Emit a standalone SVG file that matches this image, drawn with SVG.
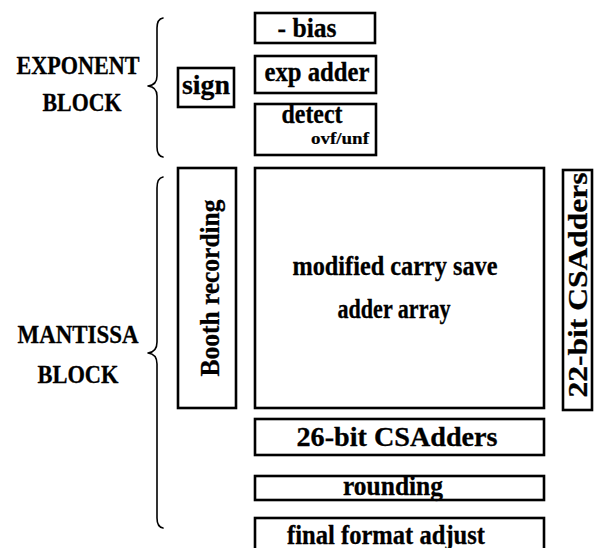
<svg xmlns="http://www.w3.org/2000/svg" width="605" height="548" viewBox="0 0 605 548">
  <style>
    .box { fill: #fff; stroke: #000; stroke-width: 2.6; }
    .brace { fill: none; stroke: #000; stroke-width: 1.6; stroke-linecap: round; stroke-linejoin: round; }
    text { font-family: "Liberation Serif", "Times New Roman", serif; font-weight: bold; fill: #000; stroke: #000; stroke-width: 0.3; text-anchor: middle; }
    .t { font-size: 27px; }
    .cap { font-size: 25px; }
    .small { font-size: 16px; stroke-width: 0.2; }
  </style>
  <rect width="605" height="548" fill="#fff"/>

  <!-- side labels with braces -->
  <g id="exponent-label">
    <text class="cap" x="78" y="74" textLength="123" lengthAdjust="spacingAndGlyphs">EXPONENT</text>
    <text class="cap" x="82" y="111" textLength="79" lengthAdjust="spacingAndGlyphs">BLOCK</text>
  </g>
  <g id="mantissa-label">
    <text class="cap" x="78" y="343" textLength="121" lengthAdjust="spacingAndGlyphs">MANTISSA</text>
    <text class="cap" x="78" y="383" textLength="81" lengthAdjust="spacingAndGlyphs">BLOCK</text>
  </g>
  <g id="connectors">
    <path class="brace" d="M163,18 Q157,19 157,28 L157,76 Q157,85 148,86 Q157,87 157,96 L157,147 Q157,156 163,157"/>
    <path class="brace" d="M163,177 Q157,178 157,188 L157,342 Q157,352 148,353 Q157,354 157,364 L157,518 Q157,527 163,528"/>
  </g>

  <!-- exponent block -->
  <g id="sign">
    <rect class="box" x="178" y="68" width="56" height="39"/>
    <text class="t" x="206" y="94" textLength="48" lengthAdjust="spacingAndGlyphs">sign</text>
  </g>
  <g id="bias">
    <rect class="box" x="255" y="13" width="120" height="30"/>
    <text class="t" x="307" y="37" textLength="59" lengthAdjust="spacingAndGlyphs">- bias</text>
  </g>
  <g id="exp-adder">
    <rect class="box" x="255" y="56" width="121" height="37"/>
    <text class="t" x="317" y="81" textLength="105" lengthAdjust="spacingAndGlyphs">exp adder</text>
  </g>
  <g id="detect">
    <rect class="box" x="255" y="104" width="121" height="51"/>
    <text class="t" x="312" y="123" textLength="61" lengthAdjust="spacingAndGlyphs">detect</text>
    <text class="small" x="340" y="144" textLength="58" lengthAdjust="spacingAndGlyphs">ovf/unf</text>
  </g>

  <!-- mantissa block -->
  <g id="booth">
    <rect class="box" x="178" y="168" width="58" height="240"/>
    <text class="t" transform="translate(219,288) rotate(-90)" x="0" y="0" textLength="177" lengthAdjust="spacingAndGlyphs">Booth recording</text>
  </g>
  <g id="csa-array">
    <rect class="box" x="255" y="168" width="289" height="240"/>
    <text class="t" x="395" y="275" textLength="205" lengthAdjust="spacingAndGlyphs">modified carry save</text>
    <text class="t" x="394" y="318" textLength="113" lengthAdjust="spacingAndGlyphs">adder array</text>
  </g>
  <g id="csa-22">
    <rect class="box" x="563" y="170" width="29" height="240"/>
    <text class="t" transform="translate(587,285) rotate(-90)" x="0" y="0" textLength="225" lengthAdjust="spacingAndGlyphs">22-bit CSAdders</text>
  </g>
  <g id="csa-26">
    <rect class="box" x="255" y="419" width="289" height="36"/>
    <text class="t" x="397" y="446" textLength="201" lengthAdjust="spacingAndGlyphs">26-bit CSAdders</text>
  </g>
  <g id="rounding">
    <rect class="box" x="255" y="476" width="289" height="24"/>
    <text class="t" x="393" y="495" textLength="100" lengthAdjust="spacingAndGlyphs">rounding</text>
  </g>
  <g id="final-format">
    <rect class="box" x="255" y="518" width="289" height="40"/>
    <text class="t" x="386" y="544" textLength="198" lengthAdjust="spacingAndGlyphs">final format adjust</text>
  </g>
</svg>
